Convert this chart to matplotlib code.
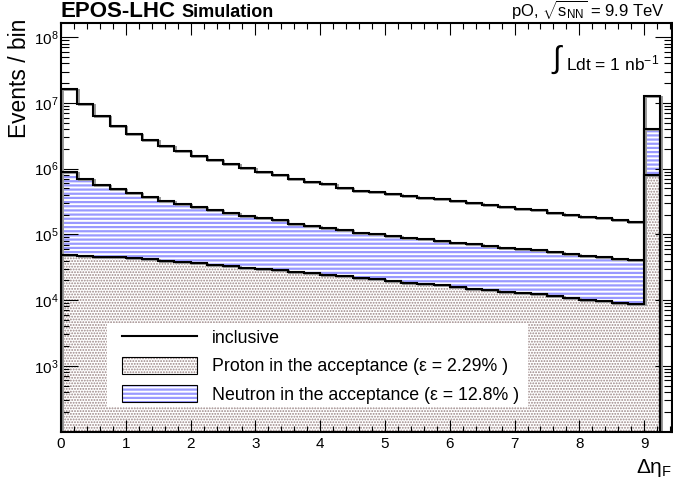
import numpy as np
import matplotlib
matplotlib.use('Agg')
import matplotlib.pyplot as plt
from matplotlib.patches import Patch, Rectangle
from matplotlib.lines import Line2D
from matplotlib.legend_handler import HandlerPatch
from matplotlib.ticker import LogLocator, MultipleLocator, NullFormatter
from matplotlib.transforms import offset_copy

plt.rcParams['font.family'] = ['Liberation Sans', 'DejaVu Sans']
plt.rcParams['mathtext.fontset'] = 'custom'
plt.rcParams['mathtext.rm'] = 'Liberation Sans'
plt.rcParams['mathtext.it'] = 'Liberation Sans'
plt.rcParams['mathtext.bf'] = 'Liberation Sans:bold'
plt.rcParams['hatch.linewidth'] = 1.6

# --- data: 0.25 wide bins in delta eta, last bin collects the rest ---
bin_edges = np.linspace(0, 9.25, 38)
inclusive = [1.64e7, 9.5e6, 6.3e6, 4.44e6, 3.4e6, 2.69e6, 2.2e6, 1.85e6, 1.55e6,
             1.35e6, 1.19e6, 1.01e6, 8.85e5, 7.89e5, 7.02e5, 6.32e5, 5.81e5,
             5.12e5, 4.61e5, 4.39e5, 4.09e5, 3.81e5, 3.61e5, 3.47e5, 3.2e5,
             2.98e5, 2.78e5, 2.59e5, 2.45e5, 2.31e5, 2.13e5, 1.99e5, 1.87e5,
             1.77e5, 1.64e5, 1.53e5, 1.27e7]
neutron = [8.85e5, 6.86e5, 5.69e5, 4.82e5, 4.25e5, 3.71e5, 3.22e5, 2.93e5, 2.61e5,
           2.35e5, 2.15e5, 1.89e5, 1.75e5, 1.63e5, 1.45e5, 1.33e5, 1.23e5, 1.15e5,
           1.06e5, 9.97e4, 9.4e4, 8.88e4, 8.36e4, 7.89e4, 7.35e4, 7.02e4, 6.55e4,
           6.25e4, 5.96e4, 5.69e4, 5.31e4, 5.0e4, 4.72e4, 4.5e4, 4.26e4, 4.01e4,
           3.95e6]
proton = [4.77e4, 4.69e4, 4.58e4, 4.45e4, 4.30e4, 4.15e4, 3.96e4, 3.80e4, 3.61e4,
          3.42e4, 3.25e4, 3.10e4, 2.97e4, 2.82e4, 2.68e4, 2.54e4, 2.41e4, 2.29e4,
          2.17e4, 2.06e4, 1.95e4, 1.85e4, 1.76e4, 1.67e4, 1.58e4, 1.50e4, 1.43e4,
          1.35e4, 1.28e4, 1.22e4, 1.15e4, 1.08e4, 1.02e4, 9.62e3, 9.10e3, 8.58e3,
          7.97e5]

labels = ["inclusive",
          "Proton in the acceptance (\u03b5 = 2.29% )",
          "Neutron in the acceptance (\u03b5 = 12.8% )"]

dot_col = '#9a8585'
hatch_blue = '#9999ff'
dot_hatch = '......'


def thin_dots(p):
    # finer dots if this matplotlib allows a per-artist hatch width
    if hasattr(p, 'set_hatch_linewidth'):
        p.set_hatch_linewidth(0.9)
    return p


class DotHandler(HandlerPatch):
    def update_prop(self, legend_handle, orig_handle, legend):
        super().update_prop(legend_handle, orig_handle, legend)
        thin_dots(legend_handle)


fig = plt.figure(figsize=(6.73, 4.79), dpi=100)
ax = fig.add_axes([61/673, 1 - 431.5/479, 611/673, 408.2/479])
ax.set_yscale('log')

# fills: neutron first, proton on top of it
ax.stairs(neutron, bin_edges, baseline=1, fill=True, facecolor='white',
          edgecolor=hatch_blue, hatch='----', linewidth=0, zorder=1)
thin_dots(ax.stairs(proton, bin_edges, baseline=1, fill=True, facecolor='white',
                    edgecolor=dot_col, hatch=dot_hatch, linewidth=0, zorder=1.5))

# outlines with a faint grey shadow
shadow = offset_copy(ax.transData, fig=fig, x=1.5, y=-1, units='dots')
for vals in (neutron, proton, inclusive):
    ax.stairs(vals, bin_edges, baseline=1, color='#999999', lw=1.4,
              transform=shadow, zorder=2)
    ax.stairs(vals, bin_edges, baseline=1, color='black', lw=1.5, zorder=3)

ax.set_xlim(0, 9.43)
ax.set_ylim(100, 1.63e8)
ax.set_yticks([1e3, 1e4, 1e5, 1e6, 1e7, 1e8])
ax.yaxis.set_minor_locator(LogLocator(base=10, subs=np.arange(2, 10)))
ax.yaxis.set_minor_formatter(NullFormatter())
ax.xaxis.set_major_locator(MultipleLocator(1))
ax.xaxis.set_minor_locator(MultipleLocator(0.2))

ax.tick_params(which='both', direction='in', top=True, right=True, width=0.8,
               labelsize=11, colors='black')
ax.tick_params(axis='x', which='major', length=8.6, pad=4)
ax.tick_params(axis='x', which='minor', length=4.5)
ax.tick_params(axis='y', which='major', length=12, pad=2)
ax.tick_params(axis='y', which='minor', length=6)
for s in ax.spines.values():
    s.set_linewidth(1.5)

# legend: white box drawn by hand, entries without frame
ax.add_patch(Rectangle((0.0753, 0.060), 0.689, 0.206, transform=ax.transAxes,
                       facecolor='white', edgecolor='none', zorder=4))
h_incl = Line2D([], [], color='black', lw=1.5)
dot_patch = Patch(facecolor='white', edgecolor=dot_col, hatch=dot_hatch, lw=0)
h_prot = (dot_patch, Patch(facecolor='none', edgecolor='black', lw=0.8))
h_neut = (Patch(facecolor='white', edgecolor=hatch_blue, hatch='----', lw=0),
          Patch(facecolor='none', edgecolor='black', lw=0.8))
leg = ax.legend([h_incl, h_prot, h_neut], labels, loc='upper left',
                bbox_to_anchor=(0.0998, 0.252), fontsize=12.8, frameon=False,
                handlelength=4.2, handleheight=1.12, handletextpad=0.85,
                labelspacing=0.53, borderpad=0, borderaxespad=0,
                handler_map={dot_patch: DotHandler()})
leg.set_zorder(5)

# texts
fig.text(60/673, 1 - 17/479, 'EPOS-LHC', fontsize=16, weight='bold',
         ha='left', va='baseline')
fig.text(181/673, 1 - 17/479, 'Simulation', fontsize=13, weight='bold',
         ha='left', va='baseline')
fig.text(665/673, 1 - 17/479, r'pO, $\sqrt{s_{NN}}$ = 9.9 TeV', fontsize=12,
         ha='right', va='baseline')
fig.text(552/673, 1 - 60/479, '\u222b', fontsize=22, ha='left', va='center')
fig.text(659/673, 1 - 63/479, r'Ldt = 1 nb$^{-1}$', fontsize=12.5,
         ha='right', va='center')
fig.text(20/673, 1 - 19/479, 'Events / bin', fontsize=16.4, rotation=90,
         ha='center', va='top')
fig.text(636/673, 1 - 468/479, r'$\Delta\eta_{F}$', fontsize=15,
         ha='left', va='center')

fig.savefig('out.png', dpi=100)
